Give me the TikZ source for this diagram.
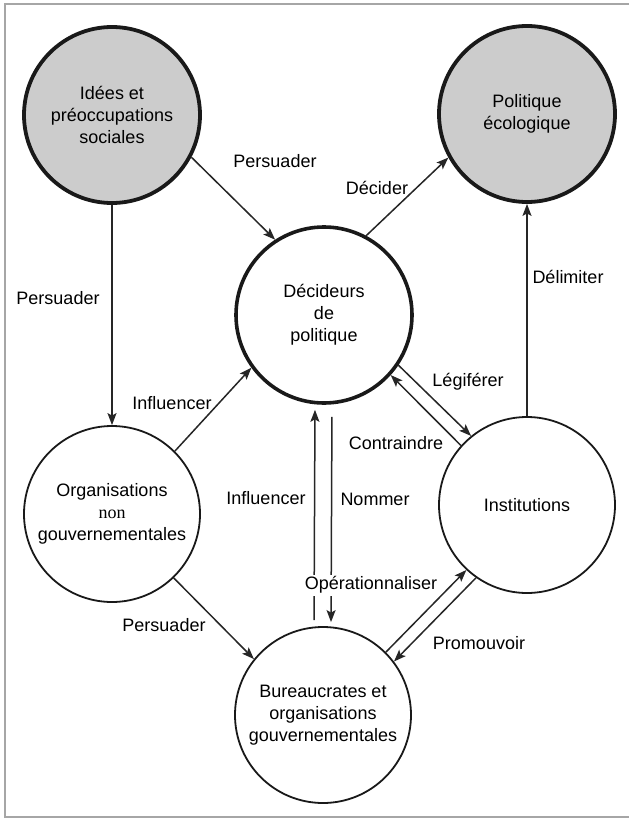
\documentclass[tikz,border=0pt]{standalone}
\usepackage{fontspec}
\setmainfont{Liberation Sans}
\newfontfamily\serifnon{Liberation Serif}
\usetikzlibrary{arrows.meta}
\begin{document}
\begin{tikzpicture}[x=1pt,y=-1pt,
  circ/.style={circle, draw=black!90, line width=1.8pt, minimum size=176pt, inner sep=0pt, align=center, font=\fontsize{18}{22}\selectfont},
  shadedc/.style={circ, fill=black!20, line width=3.8pt},
  decc/.style={circ, line width=3.6pt},
  conn/.style={line width=1.5pt, draw=black!85, -{Stealth[length=12pt,width=9pt,inset=2.5pt]}},
  lbl/.style={font=\fontsize{18}{22}\selectfont, inner sep=1pt}]
\useasboundingbox (0,0) rectangle (629,819);
\draw[black!35, line width=1.3pt] (629,4) -- (5,4) -- (5,817) -- (629,817);

\node[shadedc] (ide) at (112,115) {Idées et\\préoccupations\\sociales};
\node[shadedc] (pol) at (527,114) {Politique\\écologique};
\node[decc] (dec) at (324,315) {Décideurs\\de\\politique};
\node[circ] (org) at (112,514) {Organisations\\{\serifnon non}\\gouvernementales};
\node[circ] (ins) at (527,505) {Institutions};
\node[circ] (bur) at (323,715) {Bureaucrates et\\organisations\\gouvernementales};

\draw[conn] (ide.-28.5) -- (dec.123.7);
\draw[conn] (dec.62) -- (pol.209);
\draw[conn] (ins.north) -- (pol.south);
\draw[conn] (ide.south) -- (org.north);
\draw[conn] (org.45) -- (dec.216);
\draw[conn, shorten <=6pt, shorten >=5pt] ([xshift=-9pt]bur.north) -- ([xshift=-9pt]dec.south);
\draw[conn, shorten <=12pt, shorten >=4pt] ([xshift=8pt]dec.south) -- ([xshift=8pt]bur.north);
\draw[conn] (bur.45.5) -- (ins.227);
\draw[conn] (ins.235) -- (bur.37.4);
\draw[conn] (dec.-34.4) -- (ins.129);
\draw[conn] (ins.138) -- (dec.-42.4);
\draw[conn] (org.-46) -- (bur.141.8);

\node[lbl] (l1) at (275,161) {Persuader};
\node[lbl] (l2) at (377,188) {Décider};
\node[lbl] (l3) at (58,298) {Persuader};
\node[lbl] (l4) at (568,277) {Délimiter};
\node[lbl] (l5) at (172,403) {Influencer};
\node[lbl] (l6) at (468,382) {Légiférer};
\node[lbl] (l7) at (396,443) {Contraindre};
\node[lbl] (l8) at (266,498) {Influencer};
\node[lbl] (l9) at (375,499) {Nommer};
\node[lbl, fill=white, inner sep=2pt] (l10) at (371,585) {Opérationnaliser};
\node[lbl] (l11) at (479,643) {Promouvoir};
\node[lbl] (l12) at (164,625) {Persuader};
\end{tikzpicture}
\end{document}
